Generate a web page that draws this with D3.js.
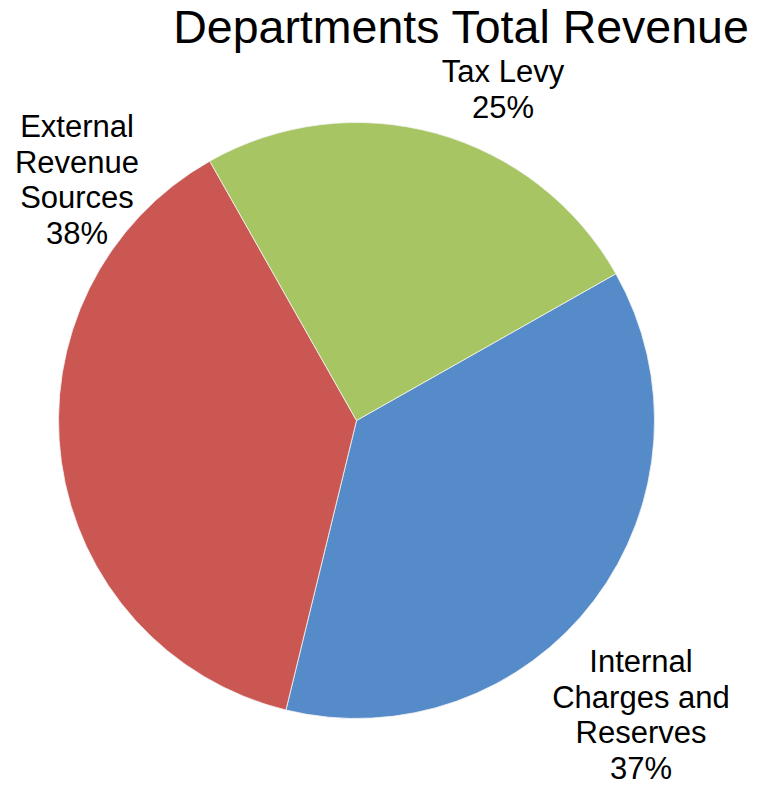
<!DOCTYPE html>
<html>
<head>
<meta charset="utf-8">
<script src="https://cdn.jsdelivr.net/npm/d3@7/dist/d3.min.js"></script>
<style>
  html, body { margin: 0; padding: 0; background: #ffffff; }
  svg { display: block; font-family: "Liberation Sans", Arial, Helvetica, sans-serif; }
</style>
</head>
<body>
<svg id="chart" width="778" height="785"></svg>
<script>
// Revenue shares by source (percent), in drawing order clockwise
const categories = ["Internal Charges and Reserves", "External Revenue Sources", "Tax Levy"];
const shares = [37, 38, 25];
// Label text broken into lines as shown beside each slice
const labelLines = [
  ["Internal", "Charges and", "Reserves"],
  ["External", "Revenue", "Sources"],
  ["Tax Levy"]
];
const sliceColors = ["#568BC9", "#CB5753", "#A7C663"];
const title = "Departments Total Revenue";

const W = 778, H = 785;
const cx = 356.5, cy = 420.5, radius = 298;
const rotation = 60.5 * Math.PI / 180; // first slice begins just past 60° clockwise from top

// Label block anchors (centre x, first baseline y), placed outside each slice
const labelAnchor = {
  "Internal Charges and Reserves": { x: 641, y: 672 },
  "External Revenue Sources": { x: 77, y: 137 },
  "Tax Levy": { x: 503, y: 82 }
};
const lineHeight = 35.5;

const svg = d3.select("#chart");

svg.append("text")
  .attr("x", 461)
  .attr("y", 42.5)
  .attr("text-anchor", "middle")
  .attr("font-size", 46.5)
  .attr("fill", "#000")
  .text(title);

const data = categories.map((c, i) => ({ name: c, value: shares[i], lines: labelLines[i], color: sliceColors[i] }));

const pie = d3.pie()
  .sort(null)
  .value(d => d.value)
  .startAngle(rotation)
  .endAngle(rotation + 2 * Math.PI);

const arc = d3.arc().innerRadius(0).outerRadius(radius);

const g = svg.append("g").attr("transform", `translate(${cx},${cy})`);

g.selectAll("path.slice")
  .data(pie(data))
  .join("path")
  .attr("class", "slice")
  .attr("d", arc)
  .attr("fill", d => d.data.color)
  .attr("stroke", "#f2f2f2")
  .attr("stroke-width", 0.8);

const fmt = d3.format(".0%");
const total = d3.sum(shares);

const labels = svg.append("g").attr("class", "labels");
data.forEach(d => {
  const a = labelAnchor[d.name];
  const t = labels.append("text")
    .attr("text-anchor", "middle")
    .attr("font-size", 31)
    .attr("fill", "#000");
  const lines = d.lines.concat([fmt(d.value / total)]);
  lines.forEach((ln, i) => {
    t.append("tspan")
      .attr("x", a.x)
      .attr("y", a.y + i * lineHeight)
      .text(ln);
  });
});
</script>
</body>
</html>
